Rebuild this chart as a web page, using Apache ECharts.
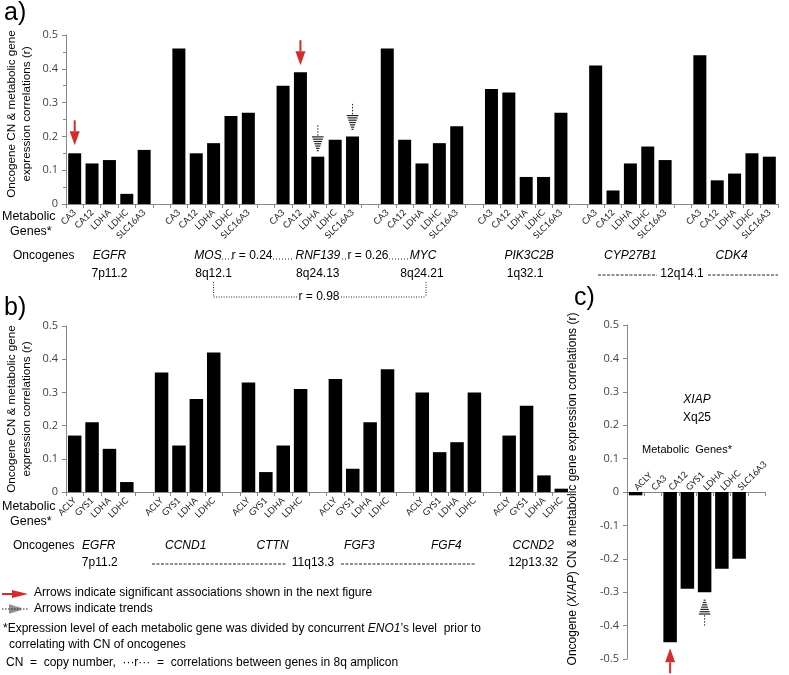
<!DOCTYPE html>
<html>
<head>
<meta charset="utf-8">
<script src="https://cdn.jsdelivr.net/npm/echarts@6/dist/echarts.min.js"></script>
<style>
  html, body { margin: 0; padding: 0; background: #fff; }
  #main { width: 789px; height: 675px; }
</style>
</head>
<body>
<div id="main"></div>
<script>
// panel a) oncogene CN vs metabolic genes
const genesA = ["CA3", "CA12", "LDHA", "LDHC", "SLC16A3"];
const oncogenesA = ["EGFR", "MOS", "RNF139", "MYC", "PIK3C2B", "CYP27B1", "CDK4"];
const egfrA = [0.15, 0.12, 0.13, 0.03, 0.16];
const mosA = [0.46, 0.15, 0.18, 0.26, 0.27];
const rnf139A = [0.35, 0.39, 0.14, 0.19, 0.20];
const mycA = [0.46, 0.19, 0.12, 0.18, 0.23];
const pik3c2bA = [0.34, 0.33, 0.08, 0.08, 0.27];
const cyp27b1A = [0.41, 0.04, 0.12, 0.17, 0.13];
const cdk4A = [0.44, 0.07, 0.09, 0.15, 0.14];
const locusA = ["7p11.2", "8q12.1", "8q24.13", "8q24.21", "1q32.1"];

// panel b)
const genesB = ["ACLY", "GYS1", "LDHA", "LDHC"];
const oncogenesB = ["EGFR", "CCND1", "CTTN", "FGF3", "FGF4", "CCND2"];
const egfrB = [0.17, 0.21, 0.13, 0.03];
const ccnd1B = [0.36, 0.14, 0.28, 0.42];
const cttnB = [0.33, 0.06, 0.14, 0.31];
const fgf3B = [0.34, 0.07, 0.21, 0.37];
const fgf4B = [0.30, 0.12, 0.15, 0.30];
const ccnd2B = [0.17, 0.26, 0.05, 0.01];

// panel c) XIAP
const genesC = ["ACLY", "CA3", "CA12", "GYS1", "LDHA", "LDHC", "SLC16A3"];
const xiapC = [-0.01, null, -0.45, -0.29, -0.30, -0.23, -0.20];

const RED = "#d52b2b";
const SANS = "'Liberation Sans', Arial, sans-serif";
const TICKFONT = "'Open Sans', sans-serif";
const GENEFONT = "Lato, sans-serif";

// categories with an empty slot between groups
function buildCats(oncs, genes, rows) {
  const cats = [];
  const vals = [];
  oncs.forEach((onc, gi) => {
    if (gi > 0) { cats.push("gap" + gi); vals.push(null); }
    genes.forEach((g, k) => { cats.push(onc + ":" + g); vals.push(rows[gi][k]); });
  });
  return { cats, vals };
}
const A = buildCats(oncogenesA, genesA, [egfrA, mosA, rnf139A, mycA, pik3c2bA, cyp27b1A, cdk4A]);
const B = buildCats(oncogenesB, genesB, [egfrB, ccnd1B, cttnB, fgf3B, fgf4B, ccnd2B]);
const catsC = genesC.concat(["end"]);
const valsC = xiapC.concat([null]);

const geneLabel = (v) => {
  if (v === "end" || v.startsWith("gap")) return "";
  return v.indexOf(":") < 0 ? v : v.split(":")[1];
};
const tickLabel = (v) => (Math.abs(v) < 1e-9 ? "0" : v.toFixed(1));

function xAxisOf(grid, cats) {
  return {
    type: "category", gridIndex: grid, data: cats,
    axisLine: { onZero: true, lineStyle: { color: "#888", width: 1 } },
    axisTick: { show: true, interval: 0, length: 4, lineStyle: { color: "#888" } },
    axisLabel: { interval: 0, rotate: 45, fontSize: 9, fontFamily: GENEFONT, color: "#222", margin: 7, formatter: geneLabel },
    splitLine: { show: false },
  };
}
function yAxisOf(grid, min, max, minor) {
  return {
    type: "value", gridIndex: grid, min: min, max: max, interval: 0.1,
    axisLine: { show: true, lineStyle: { color: "#888", width: 1 } },
    axisTick: { show: true, length: 4, lineStyle: { color: "#888" } },
    minorTick: { show: !!minor, splitNumber: 2, length: 3, lineStyle: { color: "#888" } },
    axisLabel: { fontSize: 11, fontFamily: TICKFONT, color: "#444", margin: 8, formatter: tickLabel },
    splitLine: { show: false },
  };
}

// panel c: line + ticks on the zero line, labels carried by a helper axis whose grid ends at zero
const xC = xAxisOf(2, catsC);
xC.axisLabel = { show: false };
const xCLabels = {
  type: "category", gridIndex: 3, data: catsC,
  axisLine: { show: false }, axisTick: { show: false }, splitLine: { show: false },
  axisLabel: { interval: 0, rotate: 45, inside: true, fontSize: 9, fontFamily: GENEFONT, color: "#222", margin: 3, formatter: geneLabel },
};

const chart = echarts.init(document.getElementById("main"), null, { renderer: "canvas" });

chart.setOption({
  animation: false,
  backgroundColor: "#fff",
  grid: [
    { left: 66, top: 35, width: 712, height: 169, outerBoundsMode: "none" },
    { left: 66, top: 326, width: 504, height: 166, outerBoundsMode: "none" },
    { left: 627, top: 325, width: 138, height: 334, outerBoundsMode: "none" },
    { left: 627, top: 325, width: 138, height: 167, outerBoundsMode: "none" },
  ],
  xAxis: [xAxisOf(0, A.cats), xAxisOf(1, B.cats), xC, xCLabels],
  yAxis: [
    yAxisOf(0, 0, 0.5, true), yAxisOf(1, 0, 0.5, false), yAxisOf(2, -0.5, 0.5, false),
    { type: "value", gridIndex: 3, show: false, min: 0, max: 1 },
  ],
  series: [
    { type: "bar", xAxisIndex: 0, yAxisIndex: 0, data: A.vals, barWidth: 13, itemStyle: { color: "#000" }, silent: true },
    { type: "bar", xAxisIndex: 1, yAxisIndex: 1, data: B.vals, barWidth: 13.5, itemStyle: { color: "#000" }, silent: true },
    { type: "bar", xAxisIndex: 2, yAxisIndex: 2, data: valsC, barWidth: 13.5, itemStyle: { color: "#000" }, silent: true },
  ],
});

// ---- annotations ----
const px = (axis, v) => chart.convertToPixel({ xAxisIndex: axis }, v);
const py = (axis, v) => chart.convertToPixel({ yAxisIndex: axis }, v);

function txt(x, y, s, o) {
  o = o || {};
  return {
    type: "text", x: x, y: y, rotation: o.rot || 0, silent: true,
    style: {
      text: s, fill: "#000", fontSize: o.size || 12, fontFamily: o.font || SANS,
      fontStyle: o.italic ? "italic" : "normal", align: o.align || "center", verticalAlign: o.va || "middle",
      rich: o.rich,
    },
  };
}
function line(x1, y1, x2, y2, dash, w, color) {
  return {
    type: "line", silent: true, shape: { x1, y1, x2, y2 },
    style: { stroke: color || "#222", lineWidth: w || 1, lineDash: dash || null },
  };
}
function redArrow(x, tip, dir) {
  const base = tip - dir * 14;
  const tail = tip - dir * 25;
  return [
    line(x, tail, x, base, null, 2, RED),
    { type: "polygon", silent: true, shape: { points: [[x - 5, base], [x + 5, base], [x, tip]] }, style: { fill: RED } },
  ];
}
function trendArrow(x, tip, dir) {
  const out = [line(x, tip - dir * 16, x, tip - dir * 27, [1.5, 1.5], 1)];
  for (let i = 0; i < 7; i++) {
    const y = tip - dir * (1 + i * 2.3);
    const hw = 1 + i * 0.8;
    out.push(line(x - hw, y, x + hw, y, null, 1.2));
  }
  return out;
}

const g = [];
// panel labels
g.push(txt(4, 13, "a)", { size: 25, align: "left" }));
g.push(txt(4, 308, "b)", { size: 25, align: "left" }));
g.push(txt(574, 298, "c)", { size: 25, align: "left" }));

// y-axis titles
const yTitle1 = "Oncogene CN & metabolic gene";
const yTitle2 = "expression correlations (r)";
g.push(txt(12, 114, yTitle1, { rot: Math.PI / 2, size: 11.7 }));
g.push(txt(27, 114, yTitle2, { rot: Math.PI / 2, size: 11.7 }));
g.push(txt(12, 409, yTitle1, { rot: Math.PI / 2, size: 11.7 }));
g.push(txt(27, 409, yTitle2, { rot: Math.PI / 2, size: 11.7 }));
g.push(txt(573, 489, "{n|Oncogene (}{i|XIAP}{n|) CN & metabolic gene expression correlations (r)}", {
  rot: Math.PI / 2, size: 12,
  rich: { n: { fontSize: 12, fontFamily: SANS, fill: "#000" }, i: { fontSize: 12, fontFamily: SANS, fontStyle: "italic", fill: "#000" } },
}));

// panel a) footer
g.push(txt(2, 217, "Metabolic", { align: "left", size: 12.5 }));
g.push(txt(10, 232, "Genes*", { align: "left", size: 12.5 }));
g.push(txt(13, 256, "Oncogenes", { align: "left" }));
const midA = (onc) => px(0, onc + ":LDHA");
g.push(txt(midA("EGFR"), 256, "EGFR", { italic: true }));
g.push(txt(208, 256, "MOS", { italic: true }));
g.push(txt(252, 256, "r = 0.24"));
g.push(txt(midA("RNF139"), 256, "RNF139", { italic: true }));
g.push(txt(368, 256, "r = 0.26"));
g.push(txt(midA("MYC") + 1, 256, "MYC", { italic: true }));
g.push(line(219, 259, 233, 259, [1, 2]));
g.push(line(273, 259, 294, 259, [1, 2]));
g.push(line(342, 259, 347, 259, [1, 2]));
g.push(line(389, 259, 408, 259, [1, 2]));
g.push(txt(midA("PIK3C2B") + 3, 256, "PIK3C2B", { italic: true }));
g.push(txt(midA("CYP27B1"), 256, "CYP27B1", { italic: true }));
g.push(txt(midA("CDK4") - 3, 256, "CDK4", { italic: true }));
["EGFR", "MOS", "RNF139", "MYC", "PIK3C2B"].forEach((onc, i) => {
  g.push(txt(midA(onc) + (i === 4 ? -1 : 0), 274, locusA[i]));
});
g.push(txt(682, 274, "12q14.1"));
g.push(line(598, 275, 657, 275, [3, 1.5]));
g.push(line(708, 275, 778, 275, [3, 1.5]));
// r = 0.98 bracket
const xMos = midA("MOS"), xMyc = midA("MYC") + 4;
g.push(line(xMos, 282, xMos, 297, [1, 1.5]));
g.push(line(xMyc, 282, xMyc, 297, [1, 1.5]));
g.push(line(xMos, 297, 298, 297, [1, 1.5]));
g.push(line(341, 297, xMyc, 297, [1, 1.5]));
g.push(txt(319, 297, "r = 0.98"));

// panel b) footer
g.push(txt(2, 507, "Metabolic", { align: "left", size: 12.5 }));
g.push(txt(10, 522, "Genes*", { align: "left", size: 12.5 }));
g.push(txt(13, 546, "Oncogenes", { align: "left" }));
const midB = (onc) => (px(1, onc + ":GYS1") + px(1, onc + ":LDHA")) / 2;
oncogenesB.forEach((onc) => g.push(txt(midB(onc) - 2, 546, onc, { italic: true })));
g.push(txt(midB("EGFR") - 1, 563, "7p11.2"));
g.push(txt(313, 563, "11q13.3"));
g.push(line(152, 564, 286, 564, [3, 1.5]));
g.push(line(341, 564, 475, 564, [3, 1.5]));
g.push(txt(midB("CCND2") - 2, 563, "12p13.32"));

// panel c) texts
g.push(txt(697, 400, "XIAP", { italic: true }));
g.push(txt(697, 418, "Xq25"));
g.push(txt(687, 450, "Metabolic  Genes*", { size: 11 }));

// arrows
redArrow(px(0, "EGFR:CA3"), py(0, egfrA[0]) - 8, 1).forEach((e) => g.push(e));
redArrow(px(0, "RNF139:CA12"), py(0, rnf139A[1]) - 7, 1).forEach((e) => g.push(e));
trendArrow(px(0, "RNF139:LDHA"), py(0, rnf139A[2]) - 5, 1).forEach((e) => g.push(e));
trendArrow(px(0, "RNF139:SLC16A3"), py(0, rnf139A[4]) - 6, 1).forEach((e) => g.push(e));
redArrow(px(2, "CA12"), py(2, xiapC[2]) + 6, -1).forEach((e) => g.push(e));
trendArrow(px(2, "LDHA"), py(2, xiapC[4]) + 7, -1).forEach((e) => g.push(e));

// legend / notes
g.push(line(2, 594, 14, 594, null, 2, RED));
g.push({ type: "polygon", silent: true, shape: { points: [[12, 590], [12, 598], [28, 594]] }, style: { fill: RED } });
g.push(txt(34, 593, "Arrows indicate significant associations shown in the next figure", { align: "left" }));
g.push(line(2, 609, 28, 609, [1.5, 1.5]));
for (let i = 0; i < 6; i++) {
  const x = 10 + i * 2;
  const h = 4.5 - i * 0.6;
  g.push(line(x, 609 - h, x, 609 + h, null, 1));
}
g.push(txt(34, 609, "Arrows indicate trends", { align: "left" }));
g.push(txt(3, 629, "{n|*Expression level of each metabolic gene was divided by concurrent }{i|ENO1}{n|\u2019s level  prior to}", {
  align: "left",
  rich: { n: { fontSize: 12, fontFamily: SANS, fill: "#000" }, i: { fontSize: 12, fontFamily: SANS, fontStyle: "italic", fill: "#000" } },
}));
g.push(txt(9, 645, "correlating with CN of oncogenes", { align: "left" }));
g.push(txt(6, 663, "CN  =  copy number,  \u00b7\u00b7\u00b7r\u00b7\u00b7\u00b7  =  correlations between genes in 8q amplicon", { align: "left" }));

chart.setOption({ graphic: { elements: g } });
</script>
</body>
</html>
